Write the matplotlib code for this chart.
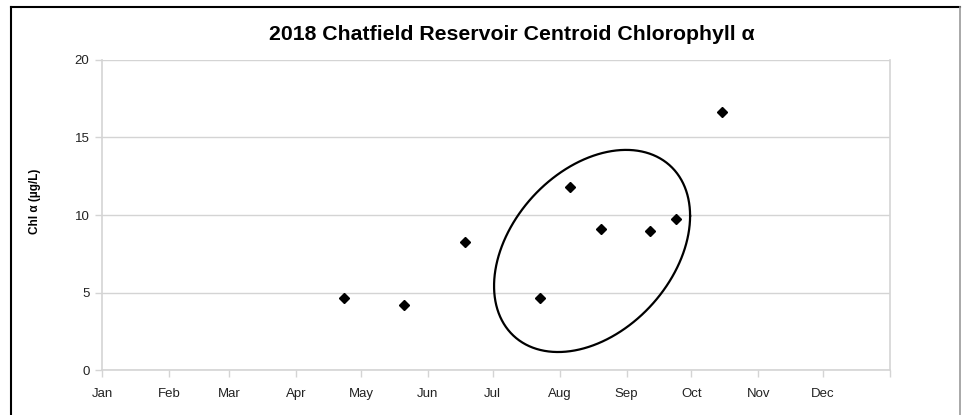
import numpy as np
import pandas as pd
import matplotlib.pyplot as plt
import matplotlib.dates as mdates
from matplotlib.lines import Line2D

# sampling dates and chlorophyll a at the centroid site
sample_dates = ["2018-04-23", "2018-05-21", "2018-06-18", "2018-07-23", "2018-08-06",
                "2018-08-20", "2018-09-12", "2018-09-24", "2018-10-15"]
chl_a = [4.66, 4.19, 8.26, 4.66, 11.79, 9.12, 8.97, 9.72, 16.65]

month_labels = ["Jan", "Feb", "Mar", "Apr", "May", "Jun",
                "Jul", "Aug", "Sep", "Oct", "Nov", "Dec"]
y_ticks = [0, 5, 10, 15, 20]

# circled late-summer samples
ring_center = ("2018-08-16", 7.68)
ring_half_width_days = 45.4
ring_half_height = 6.52
ring_phase = np.arccos(0.347)

plt.rcParams["font.family"] = ["Liberation Sans", "DejaVu Sans"]

fig = plt.figure(figsize=(9.64, 4.15), dpi=100)
ax = fig.add_axes([102 / 964, 45 / 415, 788 / 964, 310 / 415])

x = pd.to_datetime(sample_dates)
ax.plot(x, chl_a, linestyle="none", marker="D", markersize=4.8, color="black", zorder=3)

# outline ellipse drawn as a parametric curve
t = np.linspace(0, 2 * np.pi, 400)
cx = mdates.date2num(pd.Timestamp(ring_center[0]))
ex = cx + ring_half_width_days * np.cos(t)
ey = ring_center[1] + ring_half_height * np.cos(t - ring_phase)
ax.plot(ex, ey, color="black", linewidth=1.6, zorder=4)

ax.set_xlim(pd.Timestamp("2018-01-01"), pd.Timestamp("2019-01-01"))
ax.set_ylim(0, 20)
month_starts = pd.date_range("2018-01-01", periods=13, freq="MS")
ax.set_xticks(month_starts)
ax.set_xticklabels(month_labels + [""])
ax.set_yticks(y_ticks)
ax.set_yticklabels([str(v) for v in y_ticks])

grid_col = "#d4d4d4"
ax.grid(axis="y", color=grid_col, linewidth=1)
ax.set_axisbelow(True)
for side in ["left", "bottom", "right"]:
    ax.spines[side].set_color(grid_col)
    ax.spines[side].set_linewidth(1.2)
ax.spines["top"].set_visible(False)
ax.tick_params(axis="both", colors=grid_col, labelcolor="#222222", labelsize=9.5, length=5, width=1)
ax.tick_params(axis="x", pad=8)
ax.tick_params(axis="y", pad=4)

ax.set_ylabel("Chl α (µg/L)", fontsize=8.5, fontweight="bold")
ax.yaxis.set_label_coords(-0.0774, 0.545)

fig.text(512 / 964, 1 - 35 / 415, "2018 Chatfield Reservoir Centroid Chlorophyll α",
         ha="center", va="center", fontsize=15.3, fontweight="bold")

# chart frame
fig.add_artist(Line2D([11 / 964, 11 / 964], [0, 1 - 7 / 415], color="black", linewidth=1.5))
fig.add_artist(Line2D([11 / 964, 960 / 964], [1 - 7 / 415, 1 - 7 / 415], color="black", linewidth=1.5))
fig.add_artist(Line2D([960 / 964, 960 / 964], [0, 1 - 7 / 415], color="#999999", linewidth=1.2))

fig.savefig("out.png", dpi=100)
